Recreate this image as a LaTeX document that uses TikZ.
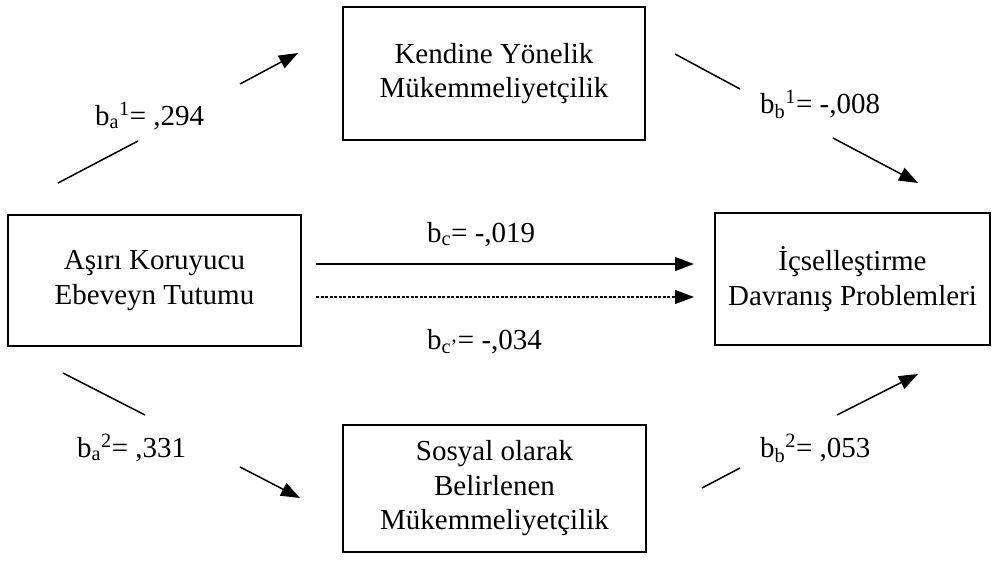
\documentclass[tikz,border=0pt]{standalone}
\usepackage{fontspec}
\setmainfont{Liberation Serif}
\usetikzlibrary{arrows.meta}
\begin{document}
\begin{tikzpicture}[x=1pt,y=-1pt,
  boxnode/.style={draw, line width=1.6pt, inner sep=0pt, align=center, font=\fontsize{29}{34.5}\selectfont},
  lbl/.style={inner sep=0pt, font=\fontsize{29}{34.5}\selectfont, anchor=base west},
  conn/.style={line width=1.5pt},
  arr/.style={line width=1.5pt, -{Triangle[length=19pt,width=14pt]}},
  darr/.style={line width=1.1pt, dash pattern=on 3pt off 1.5pt, -{Triangle[length=19pt,width=14pt]}}]
\useasboundingbox (0,0) rectangle (999,566);
% boxes
\node[boxnode, minimum width=293pt, minimum height=131pt] (ao) at (154.5,280.5) {Aşırı Koruyucu\\Ebeveyn Tutumu};
\node[boxnode, minimum width=302pt, minimum height=133pt] (km) at (494,73.5) {Kendine Yönelik\\Mükemmeliyetçilik};
\node[boxnode, minimum width=303pt, minimum height=127pt] (sm) at (494.5,488.5) {Sosyal olarak\\Belirlenen\\Mükemmeliyetçilik};
\node[boxnode, minimum width=275pt, minimum height=132pt] (ic) at (852.5,279) {İçselleştirme\\Davranış Problemleri};
% connector points
\coordinate (a1s) at (58,183);  \coordinate (a1m) at (138,141);
\coordinate (a1n) at (240,84);  \coordinate (a1e) at (298,53);
\coordinate (b1s) at (675,54);  \coordinate (b1m) at (740,89);
\coordinate (b1n) at (833,138); \coordinate (b1e) at (918,183);
\coordinate (cs) at (316,264);  \coordinate (ce) at (694,264);
\coordinate (cps) at (316,297); \coordinate (cpe) at (694,297);
\coordinate (a2s) at (63,373);  \coordinate (a2m) at (145,415);
\coordinate (a2n) at (240,467); \coordinate (a2e) at (300,498);
\coordinate (b2s) at (702,488); \coordinate (b2m) at (740,468);
\coordinate (b2n) at (837,415); \coordinate (b2e) at (918,374);
% connectors
\draw[conn] (a1s) -- (a1m); \draw[arr] (a1n) -- (a1e);
\draw[conn] (b1s) -- (b1m); \draw[arr] (b1n) -- (b1e);
\draw[arr] (cs) -- (ce);
\draw[darr] (cps) -- (cpe);
\draw[conn] (a2s) -- (a2m); \draw[arr] (a2n) -- (a2e);
\draw[conn] (b2s) -- (b2m); \draw[arr] (b2n) -- (b2e);
% labels
\node[lbl] (la1) at (95,125) {b\textsubscript{a}\textsuperscript{1}= ,294};
\node[lbl] (lb1) at (760,113) {b\textsubscript{b}\textsuperscript{1}= -,008};
\node[lbl] (lc) at (427,242) {b\textsubscript{c}= -,019};
\node[lbl] (lcp) at (427,349) {b\textsubscript{c’}= -,034};
\node[lbl] (la2) at (77,457) {b\textsubscript{a}\textsuperscript{2}= ,331};
\node[lbl] (lb2) at (760,457) {b\textsubscript{b}\textsuperscript{2}= ,053};
\end{tikzpicture}
\end{document}
